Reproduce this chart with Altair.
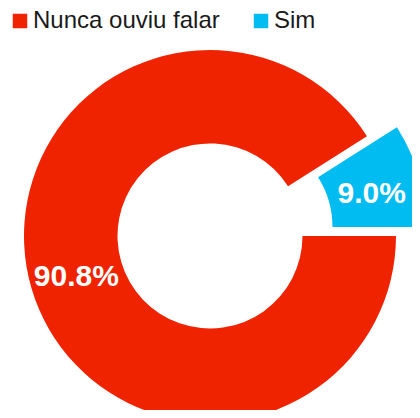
import math
import altair as alt
import pandas as pd

categorias = ["Nunca ouviu falar", "Sim"]
valores = [90.8, 9.0]
cores = ["#F02300", "#00BCF0"]

df = pd.DataFrame({"cat": categorias, "valor": valores, "ord": [0, 1]})

CX, CY = 202, 228          # donut centre (chart coords)
DX, DY = 30, -9            # explode offset for "Sim"
R_IN, R_OUT = 92.5, 186
FONT = "Liberation Sans"

theta = alt.Theta("valor:Q", stack=True,
                  scale=alt.Scale(range=[math.pi / 2, math.pi / 2 + 2 * math.pi]))
color_scale = alt.Scale(domain=categorias, range=cores)

base = alt.Chart(df).transform_calculate(
    label="format(datum.valor, '.1f') + '%'"
).encode(theta=theta, order=alt.Order("ord:Q"))

is_sim = alt.datum.cat == "Sim"

arc_main = base.mark_arc(innerRadius=R_IN, outerRadius=R_OUT).encode(
    color=alt.Color("cat:N", scale=color_scale, title=None,
                    legend=alt.Legend(orient="none", legendX=0, legendY=1,
                                      direction="horizontal", symbolType="square",
                                      symbolSize=210, symbolStrokeWidth=0,
                                      labelFont=FONT, labelFontSize=24,
                                      labelColor="#1a1a1a", labelOffset=1,
                                      columnPadding=29, labelLimit=400)),
    opacity=alt.condition(is_sim, alt.value(0), alt.value(1)),
    x=alt.value(CX), y=alt.value(CY),
)

arc_sim = base.mark_arc(innerRadius=R_IN, outerRadius=R_OUT).encode(
    color=alt.Color("cat:N", scale=color_scale, legend=None),
    opacity=alt.condition(is_sim, alt.value(1), alt.value(0)),
    x=alt.value(CX + DX), y=alt.value(CY + DY),
)

txt_main = base.mark_text(radius=(R_IN + R_OUT) / 2, font=FONT, fontSize=30,
                          fontWeight="bold", color="white", baseline="middle",
                          dy=2).encode(
    text="label:N",
    opacity=alt.condition(is_sim, alt.value(0), alt.value(1)),
    x=alt.value(CX), y=alt.value(CY),
)

txt_sim = base.mark_text(radius=(R_IN + R_OUT) / 2, font=FONT, fontSize=30,
                         fontWeight="bold", color="white", baseline="middle",
                         dy=6, dx=-2).encode(
    text="label:N",
    opacity=alt.condition(is_sim, alt.value(1), alt.value(0)),
    x=alt.value(CX + DX), y=alt.value(CY + DY),
)

chart = alt.layer(arc_main, arc_sim, txt_main, txt_sim).properties(
    width=404, height=402, padding=0,
    autosize=alt.AutoSizeParams(type="none"),
).configure_view(stroke=None)

chart.save("out.html", embed_options={"renderer": "svg", "actions": False})
